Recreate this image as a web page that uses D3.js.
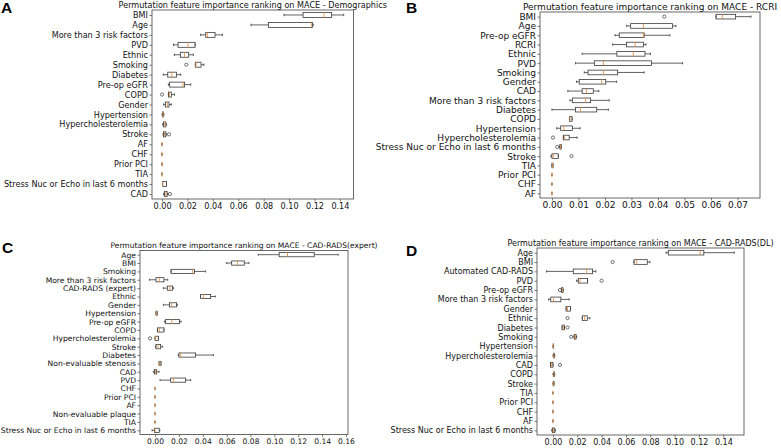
<!DOCTYPE html>
<html><head><meta charset="utf-8">
<script src="https://cdn.jsdelivr.net/npm/d3@7"></script>
<style>
html,body{margin:0;padding:0;background:#fff;}
svg{display:block;font-family:"DejaVu Sans",sans-serif;}
</style></head>
<body>
<svg id="chart" width="781" height="448"></svg>
<script>
// ---------- Panel A: Demographics ----------
const labelsA = ["BMI","Age","More than 3 risk factors","PVD","Ethnic","Smoking","Diabetes","Pre-op eGFR","COPD","Gender","Hypertension","Hypercholesterolemia","Stroke","AF","CHF","Prior PCI","TIA","Stress Nuc or Echo in last 6 months","CAD"];
// [whisker low, q1, median, q3, whisker high]
const boxesA = [
 [0.096,0.111,0.1275,0.1335,0.143],
 [0.070,0.0837,0.1178,0.1185,0.119],
 [0.0304,0.0344,0.0357,0.0417,0.0475],
 [0.009,0.0126,0.0205,0.026,0.026],
 [0.0097,0.0144,0.0176,0.021,0.0247],
 [0.0262,0.0262,0.0267,0.0307,0.033],
 [0.001,0.0045,0.0076,0.0113,0.0147],
 [0.005,0.006,0.0165,0.0178,0.0226],
 [0.005,0.005,0.0058,0.0073,0.0097],
 [0.0013,0.0026,0.0042,0.0055,0.0073],
 [0.0,0.0003,0.0008,0.0012,0.0015],
 [0.0005,0.0012,0.0022,0.003,0.0035],
 [0.0008,0.0012,0.002,0.003,0.0035],
 [0,0,0,0,0],[0,0,0,0,0],[0,0,0,0,0],[0,0,0,0,0],
 [0.0005,0.0005,0.0005,0.0035,0.0035],
 [0.0012,0.002,0.003,0.004,0.0045]
];
const fliersA = [[],[],[],[],[],[0.0191],[],[],[0.0],[],[],[],[0.0055],[],[],[],[],[],[0.0062]];
const ticksA = [0,0.02,0.04,0.06,0.08,0.10,0.12,0.14];

// ---------- Panel B: RCRI ----------
const labelsB = ["BMI","Age","Pre-op eGFR","RCRI","Ethnic","PVD","Smoking","Gender","CAD","More than 3 risk factors","Diabetes","COPD","Hypertension","Hypercholesterolemia","Stress Nuc or Echo in last 6 months","Stroke","TIA","Prior PCI","CHF","AF"];
const boxesB = [
 [0.0619,0.0619,0.0643,0.0693,0.0751],
 [0.0282,0.0297,0.0345,0.0455,0.0468],
 [0.0238,0.0254,0.0345,0.0348,0.0445],
 [0.0229,0.0281,0.0314,0.0345,0.0355],
 [0.0114,0.0245,0.0307,0.0351,0.0372],
 [0.0089,0.016,0.0194,0.0376,0.0493],
 [0.0122,0.0136,0.0194,0.0248,0.0348],
 [0.0093,0.0103,0.0188,0.0203,0.0244],
 [0.006,0.0114,0.013,0.0156,0.0177],
 [0.0068,0.0077,0.0127,0.0146,0.0216],
 [0.0,0.0089,0.0108,0.0169,0.0213],
 [0.0066,0.0066,0.0068,0.0076,0.0076],
 [0.0018,0.0033,0.0045,0.0077,0.0106],
 [0.0043,0.0043,0.0048,0.0065,0.0095],
 [0.0028,0.003,0.0032,0.0035,0.0035],
 [-0.0004,0.0,0.0005,0.0024,0.0024],
 [0,0,0.0002,0.0004,0.0004],
 [0,0,0,0,0],[0,0,0,0,0],[0,0,0,0,0]
];
const fliersB = [[0.0424],[],[],[],[],[],[],[],[],[],[],[],[],[0.0004],[0.002],[0.0074],[],[],[],[]];
const ticksB = [0,0.01,0.02,0.03,0.04,0.05,0.06,0.07];

// ---------- Panel C: CAD-RADS(expert) ----------
const labelsC = ["Age","BMI","Smoking","More than 3 risk factors","CAD-RADS (expert)","Ethnic","Gender","Hypertension","Pre-op eGFR","COPD","Hypercholesterolemia","Stroke","Diabetes","Non-evaluable stenosis","CAD","PVD","CHF","Prior PCI","AF","Non-evaluable plaque","TIA","Stress Nuc or Echo in last 6 months"];
const boxesC = [
 [0.0865,0.104,0.111,0.1334,0.1535],
 [0.060,0.0642,0.069,0.0748,0.0787],
 [0.0134,0.0134,0.0315,0.033,0.0424],
 [-0.0047,0.0008,0.0036,0.0075,0.0106],
 [0.007,0.0103,0.0126,0.0148,0.0154],
 [0.0382,0.0382,0.0405,0.0466,0.0505],
 [0.007,0.012,0.0137,0.0181,0.0187],
 [0.0008,0.0008,0.0014,0.0018,0.0018],
 [0.0078,0.0089,0.014,0.0204,0.0218],
 [0.002,0.002,0.0036,0.0075,0.0075],
 [0.0,0.0,0.0005,0.0028,0.0028],
 [0.0003,0.0008,0.0025,0.0047,0.0064],
 [0.0195,0.02,0.0215,0.034,0.0489],
 [0.0034,0.0034,0.004,0.005,0.005],
 [-0.0014,-0.0005,0.0005,0.0014,0.0034],
 [0.0042,0.0131,0.0155,0.0257,0.0299],
 [0,0,0,0,0],[0,0,0,0,0],[0,0,0,0,0],[0,0,0,0,0],[0,0,0,0,0],
 [-0.0025,-0.0005,0.0,0.0035,0.004]
];
const fliersC = [[],[],[],[],[],[],[],[],[],[],[-0.0042],[],[],[],[],[],[],[],[],[],[],[]];
const ticksC = [0,0.02,0.04,0.06,0.08,0.10,0.12,0.14,0.16];

// ---------- Panel D: CAD-RADS(DL) ----------
const labelsD = ["Age","BMI","Automated CAD-RADS","PVD","Pre-op eGFR","More than 3 risk factors","Gender","Ethnic","Diabetes","Smoking","Hypertension","Hypercholesterolemia","CAD","COPD","Stroke","TIA","Prior PCI","CHF","AF","Stress Nuc or Echo in last 6 months"];
const boxesD = [
 [0.0929,0.0948,0.121,0.124,0.149],
 [0.0666,0.0666,0.0688,0.0775,0.0797],
 [-0.0052,0.0167,0.0277,0.0326,0.0353],
 [0.0195,0.0208,0.0222,0.0285,0.0285],
 [0.007,0.007,0.0078,0.0083,0.0085],
 [-0.0035,-0.0018,0.0005,0.0065,0.0133],
 [0.0108,0.0108,0.012,0.0145,0.0145],
 [0.0241,0.0241,0.026,0.0282,0.0304],
 [0.0075,0.0075,0.0085,0.0095,0.0095],
 [0.0172,0.0175,0.0185,0.019,0.0195],
 [0,0.0002,0.0003,0.0005,0.0006],
 [0,0.0004,0.0008,0.0012,0.0015],
 [-0.002,-0.002,-0.001,0,0],
 [0,0.0004,0.0008,0.0012,0.0015],
 [0,0.0002,0.0005,0.0008,0.001],
 [0,0,0,0,0],[0,0,0,0,0],[0,0,0,0,0],[0,0,0,0,0],
 [-0.001,-0.0005,0.0005,0.0015,0.002]
];
const fliersD = [[],[0.049],[],[0.04],[0.0058],[],[],[0.012],[0.012],[0.015],[],[],[0.0058],[],[],[],[],[],[],[]];
const ticksD = [0,0.02,0.04,0.06,0.08,0.10,0.12,0.14];

const titles = [
 "Permutation feature importance ranking on MACE - Demographics",
 "Permutation feature importance ranking on MACE - RCRI",
 "Permutation feature importance ranking on MACE - CAD-RADS(expert)",
 "Permutation feature importance ranking on MACE - CAD-RADS(DL)"
];
const letters = ["A","B","C","D"];

// layout (pixel geometry)
const panels = [
 {labels:labelsA, boxes:boxesA, fliers:fliersA, ticks:ticksA, title:titles[0], letter:letters[0],
  x0:152, x1:353.5, dom:[-0.0079,0.1507], y0:10, y1:199, fs:8.1, titleY:8.3, lx:1, ly:13},
 {labels:labelsB, boxes:boxesB, fliers:fliersB, ticks:ticksB, title:titles[1], letter:letters[1],
  x0:540, x1:760, dom:[-0.0045,0.0785], y0:12, y1:198, fs:9.0, titleY:10, lx:406, ly:13},
 {labels:labelsC, boxes:boxesC, fliers:fliersC, ticks:ticksC, title:titles[2], letter:letters[2],
  x0:140, x1:348, dom:[-0.0126,0.1617], y0:250.5, y1:434.5, fs:7.6, titleY:247.5, lx:2, ly:253},
 {labels:labelsD, boxes:boxesD, fliers:fliersD, ticks:ticksD, title:titles[3], letter:letters[3],
  x0:537, x1:744, dom:[-0.0131,0.157], y0:248, y1:435, fs:8.0, titleY:245.5, lx:406, ly:256}
];

const svg = d3.select("#chart");
const boxStroke = "#3a3a3a", medColor = "#e0924a";

panels.forEach(p => {
  const g = svg.append("g");
  const x = d3.scaleLinear().domain(p.dom).range([p.x0, p.x1]);
  const y = d3.scalePoint().domain(p.labels).range([p.y0, p.y1]).padding(0.5);
  const step = y.step();
  const bh = step * 0.5, cap = step * 0.25;

  // axes
  const xa = g.append("g").attr("transform", `translate(0,${p.y1})`)
    .call(d3.axisBottom(x).tickValues(p.ticks).tickFormat(d3.format(".2f")).tickSize(2.5).tickPadding(1.5).tickSizeOuter(0));
  const ya = g.append("g").attr("transform", `translate(${p.x0},0)`)
    .call(d3.axisLeft(y).tickSize(2.5).tickPadding(1.5).tickSizeOuter(0));
  [xa, ya].forEach(a => {
    a.select(".domain").remove();
    a.selectAll("line").attr("stroke", "#444").attr("stroke-width", 0.7);
    a.selectAll("text").attr("font-size", p.fs).attr("fill", "#111").attr("font-family", "DejaVu Sans");
  });
  // frame
  g.append("rect").attr("x", p.x0).attr("y", p.y0).attr("width", p.x1 - p.x0).attr("height", p.y1 - p.y0)
    .attr("fill", "none").attr("stroke", "#444").attr("stroke-width", 0.8);

  // boxes
  p.labels.forEach((lab, i) => {
    const [lo, q1, md, q3, hi] = p.boxes[i];
    const cy = y(lab);
    const bg = g.append("g");
    bg.append("line").attr("x1", x(lo)).attr("x2", x(q1)).attr("y1", cy).attr("y2", cy)
      .attr("stroke", boxStroke).attr("stroke-width", 0.8);
    bg.append("line").attr("x1", x(q3)).attr("x2", x(hi)).attr("y1", cy).attr("y2", cy)
      .attr("stroke", boxStroke).attr("stroke-width", 0.8);
    [lo, hi].forEach(v => bg.append("line").attr("x1", x(v)).attr("x2", x(v))
      .attr("y1", cy - cap / 2).attr("y2", cy + cap / 2).attr("stroke", boxStroke).attr("stroke-width", 0.8));
    bg.append("rect").attr("x", x(q1)).attr("y", cy - bh / 2).attr("width", Math.max(0, x(q3) - x(q1)))
      .attr("height", bh).attr("fill", "none").attr("stroke", boxStroke).attr("stroke-width", 0.8);
    p.fliers[i].forEach(v => bg.append("circle").attr("cx", x(v)).attr("cy", cy).attr("r", 1.6)
      .attr("fill", "none").attr("stroke", boxStroke).attr("stroke-width", 0.7));
    bg.append("line").attr("x1", x(md)).attr("x2", x(md)).attr("y1", cy - bh / 2).attr("y2", cy + bh / 2)
      .attr("stroke", medColor).attr("stroke-width", 0.9);
  });

  // title
  g.append("text").attr("x", (p.x0 + p.x1) / 2).attr("y", p.titleY).attr("text-anchor", "middle")
    .attr("font-size", p.fs).attr("fill", "#111").text(p.title);
  // panel letter
  g.append("text").attr("x", p.lx).attr("y", p.ly).attr("font-family", "Liberation Sans, Arial, sans-serif")
    .attr("font-weight", "bold").attr("font-size", 15.5).attr("fill", "#000").text(p.letter);
});
</script>
</body></html>
